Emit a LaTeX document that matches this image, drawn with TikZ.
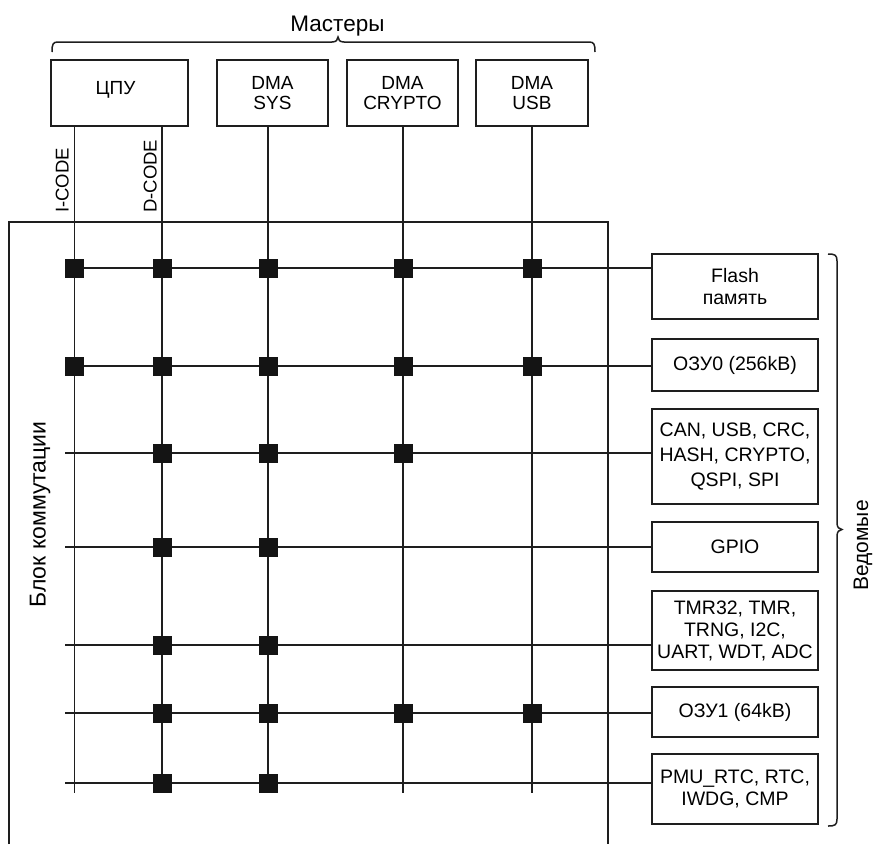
\documentclass[tikz,border=0pt]{standalone}
\usepackage{fontspec}
\setmainfont{Liberation Sans}
\definecolor{linec}{HTML}{1E1E1E}
\definecolor{sqc}{HTML}{141414}
\begin{document}
\begin{tikzpicture}[x=1pt,y=-1pt,
  ln/.style={draw=linec, line width=1.5pt},
  mbox/.style={draw=linec, line width=1.5pt, inner sep=0pt, align=center,
    minimum height=66pt, font=\fontsize{19}{20}\selectfont},
  sbox/.style={draw=linec, line width=1.5pt, inner sep=0pt, align=center,
    minimum width=166pt, font=\fontsize{19.5}{22}\selectfont},
  sq/.style={fill=sqc, minimum size=19pt, inner sep=0pt},
  vlab/.style={rotate=90, anchor=south west, inner sep=0pt, font=\fontsize{18.5}{20}\selectfont},
  big/.style={inner sep=0pt, anchor=base}
]
\useasboundingbox (0,0) rectangle (873,844);

% masters
\node[mbox, minimum width=137pt] (cpu) at (119.5,93) {\raisebox{3pt}[\height][\depth]{ЦПУ}\hspace*{8pt}};
\node[mbox, minimum width=111pt] (dsys) at (272.5,93) {DMA\\SYS};
\node[mbox, minimum width=111pt] (dcry) at (402.5,93) {DMA\\CRYPTO};
\node[mbox, minimum width=112pt] (dusb) at (532,93) {DMA\\USB};

% slaves
\node[sbox, minimum height=65pt] (flash) at (735,286.5) {Flash\\память};
\node[sbox, minimum height=52pt] (ozu0) at (735,365) {ОЗУ0 (256kB)};
\node[sbox, minimum height=95pt, font=\fontsize{19.5}{25}\selectfont] (can) at (735,456.5) {CAN, USB, CRC,\\HASH, CRYPTO,\\QSPI, SPI};
\node[sbox, minimum height=50pt] (gpio) at (735,547) {GPIO};
\node[sbox, minimum height=79pt] (tmr) at (735,630.5) {TMR32, TMR,\\TRNG, I2C,\\UART, WDT, ADC};
\node[sbox, minimum height=50pt] (ozu1) at (735,712) {ОЗУ1 (64kB)};
\node[sbox, minimum height=70pt] (pmu) at (735,789) {PMU\_RTC, RTC,\\IWDG, CMP};

% switch block frame
\coordinate (fbl) at (9,844);
\coordinate (ftl) at (9,222);
\coordinate (ftr) at (608,222);
\coordinate (fbr) at (608,844);
\draw[ln] (fbl) -- (ftl) -- (ftr) -- (fbr);

% bus columns
\coordinate (cI) at (74.5,793);
\coordinate (cD) at (162,793);
\coordinate (cS) at (268,793);
\coordinate (cC) at (403,793);
\coordinate (cU) at (532,793);
\draw[ln] (cI |- cpu.south) -- (cI);
\draw[ln] (cD |- cpu.south) -- (cD);
\draw[ln] (cS |- dsys.south) -- (cS);
\draw[ln] (cC |- dcry.south) -- (cC);
\draw[ln] (cU |- dusb.south) -- (cU);

% rows
\coordinate (r1) at (74.5,268);
\coordinate (r2) at (74.5,366);
\coordinate (r3) at (65,453);
\coordinate (r4) at (65,547);
\coordinate (r5) at (65,645);
\coordinate (r6) at (65,713);
\coordinate (r7) at (65,783);
\draw[ln] (r1) -- (r1 -| flash.west);
\draw[ln] (r2) -- (r2 -| ozu0.west);
\draw[ln] (r3) -- (r3 -| can.west);
\draw[ln] (r4) -- (r4 -| gpio.west);
\draw[ln] (r5) -- (r5 -| tmr.west);
\draw[ln] (r6) -- (r6 -| ozu1.west);
\draw[ln] (r7) -- (r7 -| pmu.west);

% connection points
\node[sq] (q1i) at (cI |- r1) {};
\node[sq] (q1d) at (cD |- r1) {};
\node[sq] (q1s) at (cS |- r1) {};
\node[sq] (q1c) at (cC |- r1) {};
\node[sq] (q1u) at (cU |- r1) {};
\node[sq] (q2i) at (cI |- r2) {};
\node[sq] (q2d) at (cD |- r2) {};
\node[sq] (q2s) at (cS |- r2) {};
\node[sq] (q2c) at (cC |- r2) {};
\node[sq] (q2u) at (cU |- r2) {};
\node[sq] (q3d) at (cD |- r3) {};
\node[sq] (q3s) at (cS |- r3) {};
\node[sq] (q3c) at (cC |- r3) {};
\node[sq] (q4d) at (cD |- r4) {};
\node[sq] (q4s) at (cS |- r4) {};
\node[sq] (q5d) at (cD |- r5) {};
\node[sq] (q5s) at (cS |- r5) {};
\node[sq] (q6d) at (cD |- r6) {};
\node[sq] (q6s) at (cS |- r6) {};
\node[sq] (q6c) at (cC |- r6) {};
\node[sq] (q6u) at (cU |- r6) {};
\node[sq] (q7d) at (cD |- r7) {};
\node[sq] (q7s) at (cS |- r7) {};

% bus labels
\node[vlab] (licode) at (69,213) {I-CODE};
\node[vlab] (ldcode) at (157,213) {D-CODE};

% titles
\node[big, font=\fontsize{22.5}{24}\selectfont] (mast) at (337.5,31.7) {Мастеры};
\node[big, rotate=90, font=\fontsize{23}{24}\selectfont] (blk) at (45.7,514.5) {Блок коммутации};
\node[big, rotate=90, font=\fontsize{21}{22}\selectfont] (ved) at (868,545.5) {Ведомые};

% braces
\draw[ln] (52,52) .. controls (52,44) and (53,42) .. (58,42) -- (332,42)
  .. controls (336,42) and (338,40) .. (338,37)
  .. controls (338,40) and (340,42) .. (344,42) -- (589,42)
  .. controls (594,42) and (595,44) .. (595,52);
\draw[ln] (828,254) .. controls (835,254) and (837,255) .. (837,261) -- (837,523)
  .. controls (837,527) and (839,529.5) .. (842,529.5)
  .. controls (839,529.5) and (837,532) .. (837,536) -- (837,819)
  .. controls (837,825) and (835,826) .. (828,826);
\end{tikzpicture}
\end{document}
